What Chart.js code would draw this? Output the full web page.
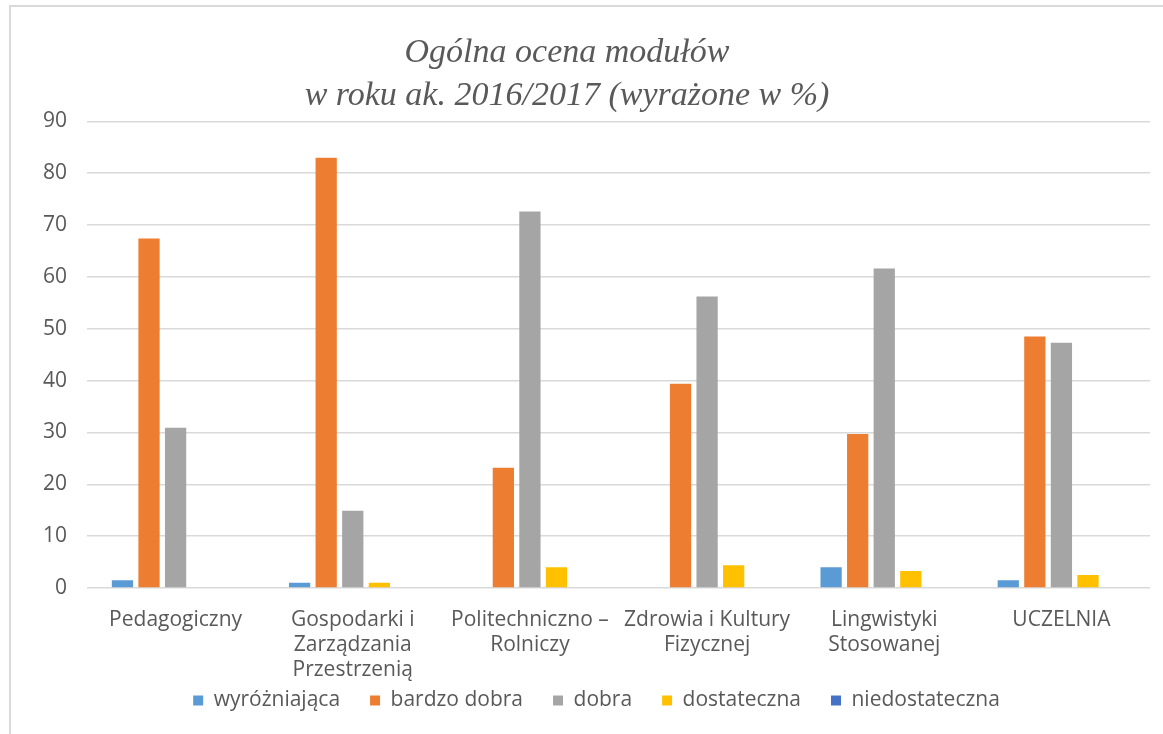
<!DOCTYPE html>
<html>
<head>
<meta charset="utf-8">
<script src="https://cdn.jsdelivr.net/npm/chart.js@4/dist/chart.umd.min.js"></script>
<style>
  html, body { margin: 0; padding: 0; background: #fff; }
  #wrap { position: relative; width: 1163px; height: 734px; }
</style>
</head>
<body>
<div id="wrap"><canvas id="chart" width="1163" height="734"></canvas></div>
<script>
// Categories (faculties) and series values (%)
const categories = [
    'Pedagogiczny',
    ['Gospodarki i', 'Zarządzania', 'Przestrzenią'],
    ['Politechniczno –', 'Rolniczy'],
    ['Zdrowia i Kultury', 'Fizycznej'],
    ['Lingwistyki', 'Stosowanej'],
    'UCZELNIA'
];
const wyrozniajaca   = [1.5, 1.0, 0, 0, 4.0, 1.5];
const bardzoDobra    = [67.4, 83.0, 23.2, 39.4, 29.7, 48.5];
const dobra          = [30.9, 14.9, 72.6, 56.2, 61.6, 47.3];
const dostateczna    = [0, 1.0, 4.0, 4.4, 3.3, 2.5];
const niedostateczna = [0, 0, 0, 0, 0, 0];
const yTicks = [0, 10, 20, 30, 40, 50, 60, 70, 80, 90];

const textColor = '#595959';
const sansFont = "'Open Sans', sans-serif";

// light frame around the whole chart, like the exported picture
const framePlugin = {
    id: 'frame',
    beforeDraw(chart) {
        const c = chart.ctx;
        c.save();
        c.strokeStyle = '#d9d9d9';
        c.lineWidth = 2;
        c.beginPath();
        c.moveTo(10, 734);
        c.lineTo(10, 6);
        c.lineTo(1163, 6);
        c.stroke();
        c.restore();
    },
    afterLayout(chart) {
        // centre the title on the picture, not on the padded box
        if (chart.titleBlock) {
            chart.titleBlock.left = 0;
            chart.titleBlock.right = 1134;
        }
        // let the 3-line x label hang past the shortened axis box
        chart.scales.x.bottom = chart.scales.x.top + 120;
        if (chart.legend) {
            chart.legend.left += 10;
            chart.legend.right += 10;
        }
    }
};

function ds(label, data, color) {
    return {
        label: label,
        data: data,
        backgroundColor: color,
        borderWidth: 0,
        categoryPercentage: 0.75,
        barPercentage: 0.8
    };
}

new Chart(document.getElementById('chart'), {
    type: 'bar',
    data: {
        labels: categories,
        datasets: [
            ds('wyróżniająca', wyrozniajaca, '#5B9BD5'),
            ds('bardzo dobra', bardzoDobra, '#ED7D31'),
            ds('dobra', dobra, '#A5A5A5'),
            ds('dostateczna', dostateczna, '#FFC000'),
            ds('niedostateczna', niedostateczna, '#4472C4')
        ]
    },
    options: {
        responsive: false,
        animation: false,
        layout: { padding: { left: 23, right: 13, top: 0, bottom: 13 } },
        plugins: {
            title: {
                display: true,
                text: ['Ogólna ocena modułów', 'w roku ak. 2016/2017 (wyrażone w %)'],
                color: textColor,
                font: { family: "'Liberation Serif', serif", size: 34, style: 'italic', weight: 'normal', lineHeight: 1.27 },
                padding: { top: 31, bottom: 4 }
            },
            legend: {
                position: 'bottom',
                labels: {
                    color: textColor,
                    font: { family: sansFont, size: 21, lineHeight: 1 },
                    boxWidth: 10,
                    boxHeight: 10,
                    padding: 30
                }
            },
            tooltip: { enabled: false }
        },
        scales: {
            x: {
                grid: { display: false },
                border: { display: false },
                ticks: {
                    color: textColor,
                    font: { family: sansFont, size: 21, lineHeight: 1.2 },
                    maxRotation: 0,
                    autoSkip: false,
                    padding: 11
                },
                // the third label line runs down next to the legend, as in the original
                afterFit(axis) { axis.height = 72; }
            },
            y: {
                min: 0,
                max: 90,
                afterBuildTicks(axis) { axis.ticks = yTicks.map(v => ({ value: v })); },
                grid: { color: '#d9d9d9', lineWidth: 1.5, drawTicks: false },
                border: { display: false },
                ticks: {
                    color: textColor,
                    font: { family: sansFont, size: 21 },
                    padding: 20
                }
            }
        }
    },
    plugins: [framePlugin]
});
</script>
</body>
</html>
